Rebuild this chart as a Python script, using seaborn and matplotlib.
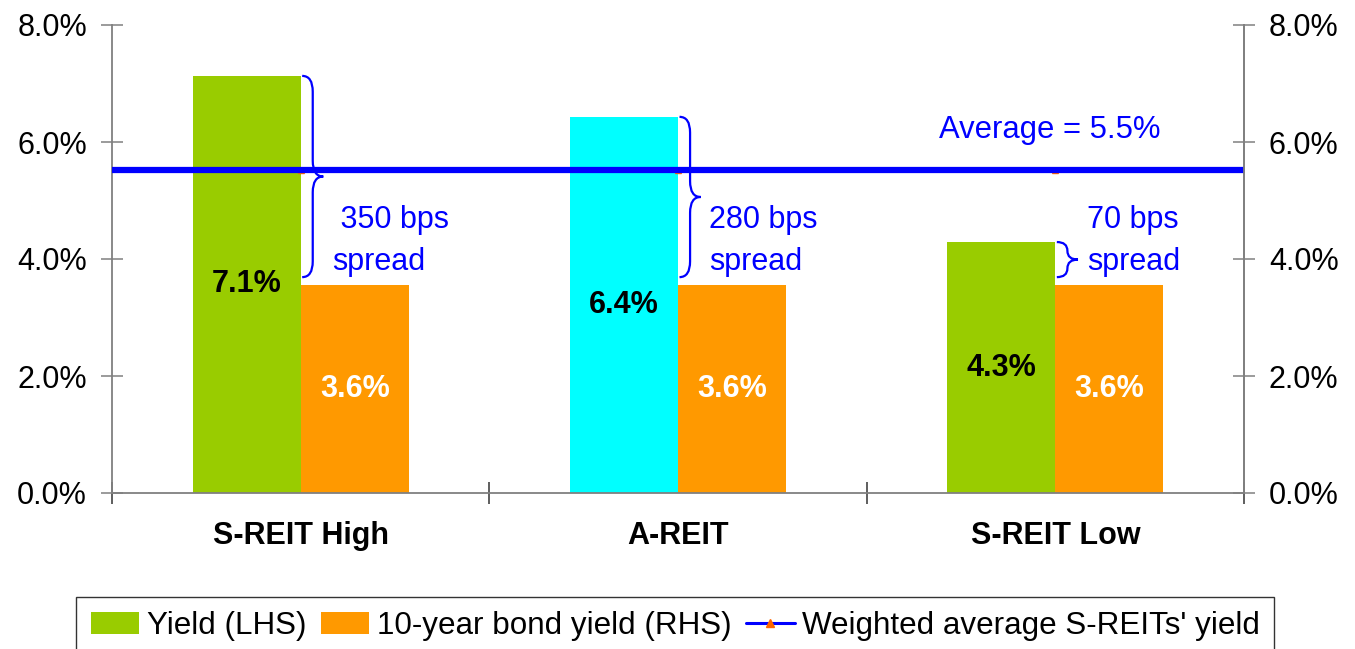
import pandas as pd
import seaborn as sns
import matplotlib.pyplot as plt
from matplotlib.path import Path
from matplotlib.patches import PathPatch, Patch
from matplotlib.lines import Line2D
from matplotlib.ticker import FuncFormatter, FixedLocator

# data
categories = ['S-REIT High', 'A-REIT', 'S-REIT Low']
yield_vals = [7.13, 6.43, 4.29]
bond_vals = [3.55, 3.55, 3.55]
yield_labels = ['7.1%', '6.4%', '4.3%']
bond_labels = ['3.6%', '3.6%', '3.6%']
spread_labels = [' 350 bps\nspread', '280 bps\nspread', '70 bps\nspread']
average = 5.52
average_label = 'Average = 5.5%'
series_names = ['Yield (LHS)', '10-year bond yield (RHS)', "Weighted average S-REITs' yield"]

GREEN = '#99CC00'
CYAN = '#00FFFF'
ORANGE = '#FF9900'
BLUE = '#0000FF'
GREY = '#808080'
FS = 22

sns.set_theme(style='white')
plt.rcParams['font.family'] = ['Liberation Sans', 'DejaVu Sans']
plt.rcParams['text.color'] = 'black'
plt.rcParams['xtick.labelcolor'] = 'black'
plt.rcParams['ytick.labelcolor'] = 'black'

df = pd.DataFrame({
    'category': categories * 2,
    'value': yield_vals + bond_vals,
    'series': [series_names[0]] * 3 + [series_names[1]] * 3,
})

fig = plt.figure(figsize=(13.55, 6.49), dpi=100)
ax = fig.add_axes([112 / 1355, 1 - 493 / 649, (1244 - 112) / 1355, (493 - 25) / 649])

sns.barplot(data=df, x='category', y='value', hue='series',
            palette=[GREEN, ORANGE], width=0.573, gap=0, dodge=True,
            legend=False, ax=ax, saturation=1)

# A-REIT yield bar is cyan in the original
ax.containers[0][1].set_facecolor(CYAN)
for c in ax.containers:
    for p in c:
        p.set_edgecolor('none')

ax.bar_label(ax.containers[0], labels=yield_labels, label_type='center',
             fontsize=FS, fontweight='bold', color='black')
ax.bar_label(ax.containers[1], labels=bond_labels, label_type='center',
             fontsize=FS, fontweight='bold', color='white')

ax.set_xlim(-0.5, len(categories) - 0.5)
ax.set_ylim(0, 8)
ax.set_xlabel('')
ax.set_ylabel('')

# average line
ax.axhline(average, color=BLUE, lw=4.5, zorder=4)
ax.plot(range(len(categories)), [average] * len(categories), ls='none',
        marker='^', ms=5, color='#FF6600', zorder=3)
ax.text(1.985, 6.2, average_label, color=BLUE, fontsize=FS + 0.3, ha='center', va='center')


# curly braces from the yield top down to the bond yield
def brace(ax, x0, ytop, ybot, w=0.056):
    xm = x0 + w / 2
    xt = x0 + w
    ymid = (ytop + ybot) / 2
    r = min(0.27, (ytop - ybot) / 4)
    verts = [(x0, ytop), (xm, ytop), (xm, ytop - r),
             (xm, ymid + r), (xm, ymid), (xt, ymid),
             (xm, ymid), (xm, ymid - r),
             (xm, ybot + r), (xm, ybot), (x0, ybot)]
    codes = [Path.MOVETO, Path.CURVE3, Path.CURVE3,
             Path.LINETO, Path.CURVE3, Path.CURVE3,
             Path.CURVE3, Path.CURVE3,
             Path.LINETO, Path.CURVE3, Path.CURVE3]
    ax.add_patch(PathPatch(Path(verts, codes), fc='none', ec=BLUE, lw=1.6, zorder=5))


for i, (yv, bv) in enumerate(zip(yield_vals, bond_vals)):
    brace(ax, i + 0.004, yv, bv + 0.14)
    ax.text(i + 0.083, 4.31, spread_labels[i], color=BLUE, fontsize=FS,
            ha='left', va='center', linespacing=1.5)

# axes styling
for s in ['left', 'right', 'bottom']:
    ax.spines[s].set_color(GREY)
    ax.spines[s].set_linewidth(1.3)
ax.spines['top'].set_visible(False)

pct = FuncFormatter(lambda v, _: f'{v:.1f}%')
ax.set_yticks([0, 2, 4, 6, 8])
ax.yaxis.set_major_formatter(pct)
ax.tick_params(axis='y', direction='inout', length=16, width=1.1, color=GREY,
               pad=10, labelsize=FS, left=True)
ax.tick_params(axis='x', which='major', length=0, pad=20, labelsize=FS)
for t in ax.get_xticklabels():
    t.set_fontweight('bold')
ax.xaxis.set_minor_locator(FixedLocator([-0.5, 0.5, 1.5, 2.5]))
ax.tick_params(axis='x', which='minor', direction='inout', length=16, width=1.1,
               color='#333333', bottom=True)

ax2 = ax.twinx()
ax2.set_ylim(0, 8)
ax2.set_yticks([0, 2, 4, 6, 8])
ax2.yaxis.set_major_formatter(pct)
ax2.tick_params(axis='y', direction='inout', length=16, width=1.1, color=GREY,
                pad=10, labelsize=FS, right=True)
for s in ['left', 'top', 'bottom']:
    ax2.spines[s].set_visible(False)
ax2.spines['right'].set_color(GREY)
ax2.spines['right'].set_linewidth(1.3)
ax2.grid(False)
ax.grid(False)

handles = [Patch(fc=GREEN, ec='none'), Patch(fc=ORANGE, ec='none'),
           Line2D([0], [0], color=BLUE, lw=2.2, marker='^', ms=6,
                  mfc='#FF6600', mec='#FF6600')]
leg = fig.legend(handles, series_names, loc='upper center', ncol=3,
                 bbox_to_anchor=(0.4985, 1 - 597 / 649), fontsize=22.6,
                 frameon=True, fancybox=False, edgecolor='black',
                 handlelength=1.55, handletextpad=0.25, columnspacing=0.45,
                 borderpad=0.45, borderaxespad=0)
leg.get_frame().set_linewidth(1.0)

fig.savefig('out.png', dpi=100)
